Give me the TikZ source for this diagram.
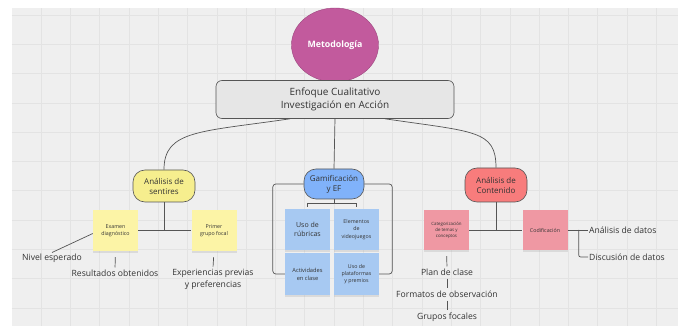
\documentclass[tikz,border=0pt]{standalone}
\usepackage{fontspec}
\setmainfont{Open Sans}
\usetikzlibrary{positioning,shapes.geometric,shadows}

\definecolor{bggray}{HTML}{EFEFEF}
\definecolor{gridgray}{HTML}{E3E3E3}
\definecolor{linegray}{HTML}{555555}
\definecolor{txtgray}{HTML}{333333}
\definecolor{metafill}{HTML}{C25A9D}
\definecolor{boxfill}{HTML}{E6E6E6}
\definecolor{yelnode}{HTML}{F6EE8E}
\definecolor{yelnote}{HTML}{FCF4A6}
\definecolor{bluenode}{HTML}{80B2FA}
\definecolor{bluenote}{HTML}{A7C9F2}
\definecolor{rednode}{HTML}{F87C7C}
\definecolor{rednote}{HTML}{EF98A3}
\newcommand{\fs}[2]{\fontsize{#1}{#2}\selectfont}

\begin{document}
\begin{tikzpicture}[x=1pt, y=-1pt,
  base/.style={draw=linegray, line width=0.6pt, align=center, text=txtgray, inner sep=2pt},
  topic/.style={base, rounded corners=12pt, minimum width=62pt, minimum height=32pt, font=\fs{8}{10}},
  note/.style={align=center, text=txtgray, minimum width=45pt, minimum height=41pt, inner sep=1pt,
    drop shadow={shadow xshift=0pt, shadow yshift=-2pt, opacity=0.18}, font=\fs{5.3}{7.2}},
  leaf/.style={text=txtgray, align=center, inner sep=1pt, font=\fs{8.6}{12}},
  link/.style={draw=linegray, line width=0.7pt}
]
% canvas with grid
\useasboundingbox (0,0) rectangle (678,326);
\fill[bggray] (11.7,8) rectangle (678,326);
\foreach \k in {1,...,22}
  \draw[gridgray, line width=0.6pt] ({11.7+29.3*\k},8) -- ({11.7+29.3*\k},326);
\foreach \k in {0,...,10}
  \draw[gridgray, line width=0.6pt] (11.7,{15+29.3*\k}) -- (678,{15+29.3*\k});

% top
\node[ellipse, fill=metafill, draw=metafill!80!black, line width=0.4pt, minimum width=78pt,
  minimum height=74pt, text=white, font=\bfseries\fs{8.8}{10}] (meta) at (335,45) {Metodología};
\node[base, fill=boxfill, rounded corners=6pt, minimum width=238pt, minimum height=38pt,
  font=\fs{10}{13}] (enf) at (335,99.5) {Enfoque Cualitativo\\Investigación en Acción};

% three branches
\node[topic, fill=yelnode] (sent) at (164,186) {Análisis de\\sentires};
\node[topic, fill=bluenode, minimum width=60pt, minimum height=30pt] (gam) at (334,184) {Gamificación\\y EF};
\node[topic, fill=rednode, minimum height=34pt] (cont) at (496,185) {Análisis de\\Contenido};

% sticky notes
\node[note, fill=yelnote] (exam) at (115.5,230.5) {Examen\\diagnóstico};
\node[note, fill=yelnote] (foco) at (214,230.5) {Primer\\grupo focal};
\node[note, fill=bluenote, font=\fs{7}{9.5}] (rubr) at (307.5,229.5) {Uso de\\rúbricas};
\node[note, fill=bluenote] (video) at (356.5,229.5) {Elementos\\de\\videojuegos};
\node[note, fill=bluenote, minimum height=42pt, font=\fs{5.7}{8}] (activ) at (307.5,274) {Actividades\\en clase};
\node[note, fill=bluenote, minimum height=42pt] (plat) at (356.5,274) {Uso de\\plataformas\\y premios};
\node[note, fill=rednote, minimum height=40pt, font=\fs{4.4}{6}] (categ) at (446.5,230) {Categorización\\de temas y\\conceptos};
\node[note, fill=rednote, minimum height=40pt] (codif) at (545,230) {Codificación};

% loose labels
\node[leaf] (nivel) at (52,258) {Nivel esperado};
\node[leaf] (result) at (115,273) {Resultados obtenidos};
\node[leaf] (exper) at (213,279) {Experiencias previas\\y preferencias};
\node[leaf, anchor=west] (anadat) at (588,230) {Análisis de datos};
\node[leaf, anchor=west] (discu) at (588,257) {Discusión de datos};
\node[leaf] (plan) at (447,272) {Plan de clase};
\node[leaf, below=13pt of plan] (format) {Formatos de observación};
\node[leaf, below=13pt of format] (grupos) {Grupos focales};

% links from the main box
\draw[link] ([xshift=-45pt]enf.south) .. controls (200,132) and (164,130) .. (sent.north);
\draw[link] (enf.south) -- (gam.north);
\draw[link] ([xshift=50pt]enf.south) .. controls (475,132) and (496,130) .. (cont.north);

% Analisis de sentires
\draw[link] (sent.south) -- (sent.south |- exam.east);
\draw[link] (exam.east) -- (foco.west);
\draw[link] ([yshift=-3pt]exam.west) -- (nivel.north);
\draw[link, shorten <=6pt, shorten >=1pt] (exam.south) -- (result.north);
\draw[link, shorten <=6pt, shorten >=1pt] (foco.south) -- (exper.north);

% Gamificacion
\coordinate (gamhub) at ([yshift=-4pt]gam.south);
\draw[link] (gam.south) -- (gamhub);
\draw[link] ([yshift=2pt]rubr.north) |- (gamhub) -| ([yshift=2pt]video.north);
\draw[link, rounded corners=3pt] (gam.west) -| ([xshift=-12pt]activ.west) -- (activ.west);
\draw[link, rounded corners=3pt] (gam.east) -| ([xshift=13pt]plat.east) -- (plat.east);

% Analisis de contenido
\draw[link] (cont.south) -- (cont.south |- categ.east);
\draw[link] (categ.east) -- (codif.west);
\draw[link] (codif.east) -- (anadat.west);
\draw[link, rounded corners=2pt] ([xshift=11pt]codif.east) |- (discu.west);
\draw[link, shorten <=6pt, shorten >=1pt] (categ.south) -- (plan.north);
\draw[link, shorten <=2pt, shorten >=2pt] (plan.south) -- (format.north);
\draw[link, shorten <=2pt, shorten >=2pt] (format.south) -- (grupos.north);
\end{tikzpicture}
\end{document}
